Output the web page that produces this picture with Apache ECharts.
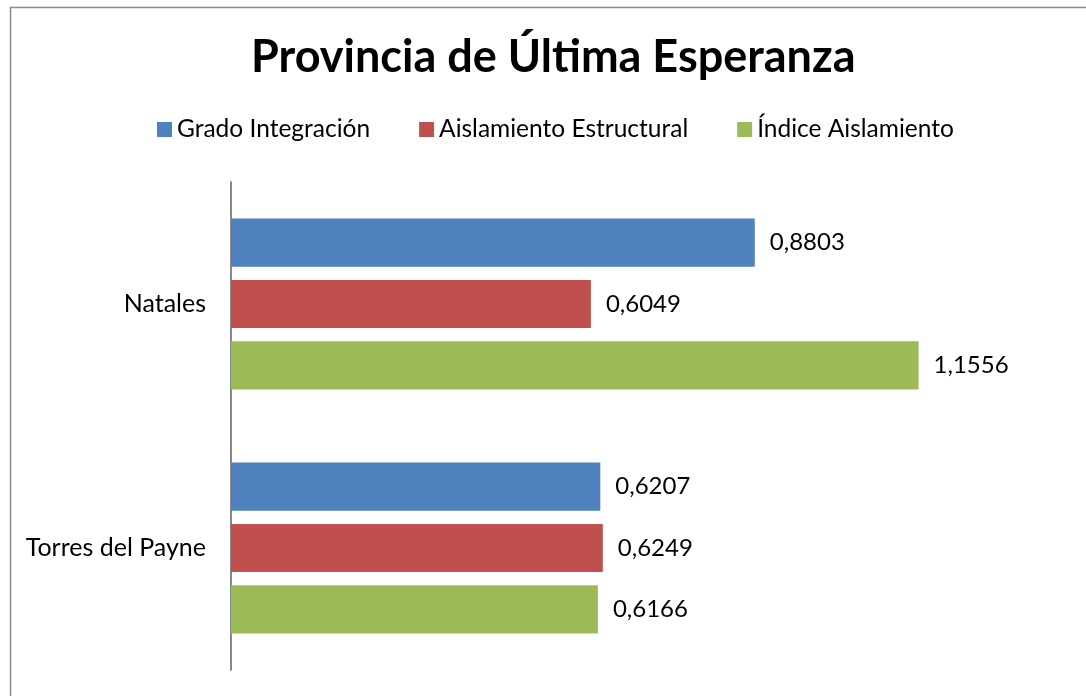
<!DOCTYPE html>
<html>
<head>
<meta charset="utf-8">
<script src="https://cdn.jsdelivr.net/npm/echarts@6/dist/echarts.min.js"></script>
<style>html,body{margin:0;padding:0;background:#fff}#c{width:1086px;height:696px}</style>
</head>
<body>
<div id="c"></div>
<script>
const categories = ['Natales', 'Torres del Payne'];
const seriesNames = ['Grado Integración', 'Aislamiento Estructural', 'Índice Aislamiento'];
const gradoIntegracion = [0.8803, 0.6207];
const aislamientoEstructural = [0.6049, 0.6249];
const indiceAislamiento = [1.1556, 0.6166];
const colors = ['#4F81BD', '#C0504D', '#9BBB59'];
const FONT = 'Lato, "Open Sans", sans-serif';

const chart = echarts.init(document.getElementById('c'));
const dataSets = [gradoIntegracion, aislamientoEstructural, indiceAislamiento];
chart.setOption({
  animation: false,
  backgroundColor: '#fff',
  title: {
    text: 'Provincia de Última Esperanza',
    left: 246, top: 30,
    textStyle: {fontFamily: FONT, fontSize: 45, fontWeight: 'bold', color: '#000'}
  },
  legend: {
    top: 112, left: 152,
    itemWidth: 15, itemHeight: 15, itemGap: 49,
    icon: 'rect',
    textStyle: {fontFamily: FONT, fontSize: 24.5, color: '#000'},
    data: seriesNames
  },
  graphic: [{
    type: 'rect', left: 8, top: 5, silent: true,
    shape: {width: 1200, height: 800},
    style: {fill: 'none', stroke: '#8a8a8a', lineWidth: 1.5}
  }],
  grid: {left: 231, right: 22, top: 182, bottom: 26, containLabel: false},
  xAxis: {
    type: 'value', min: 0, max: 1.4, interval: 0.2,
    show: false
  },
  yAxis: {
    type: 'category', data: categories, inverse: true,
    axisLine: {lineStyle: {color: '#888', width: 2}},
    axisTick: {show: false},
    axisLabel: {fontFamily: FONT, fontSize: 25, color: '#000', margin: 25}
  },
  series: seriesNames.map((n, i) => ({
    name: n, type: 'bar',
    data: dataSets[i],
    barGap: '27%', barCategoryGap: '30%',
    itemStyle: {color: colors[i]},
    label: {
      show: true, position: 'right', distance: 15,
      fontFamily: FONT, fontSize: 24, color: '#000',
      formatter: p => p.value.toFixed(4).replace('.', ',')
    }
  }))
});
</script>
</body>
</html>
